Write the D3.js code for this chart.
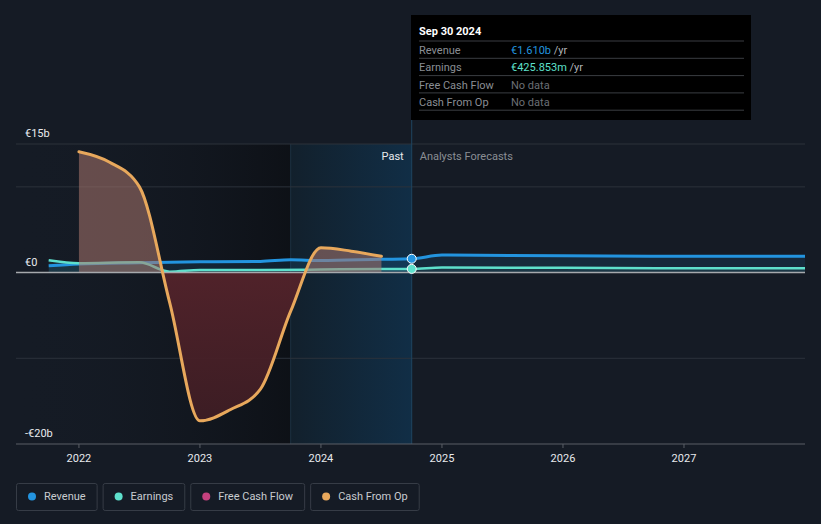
<!DOCTYPE html>
<html>
<head>
<meta charset="utf-8">
<script src="https://cdn.jsdelivr.net/npm/d3@7"></script>
<style>
  html, body { margin: 0; padding: 0; background: #151b25; }
  body { width: 821px; height: 524px; overflow: hidden; font-family: Roboto, 'Open Sans', sans-serif; }
  svg { display: block; }
</style>
</head>
<body>
<div id="chart"></div>
<script>
// values in € billions, time in decimal years
const revenueDates  = [2021.75, 2022.0, 2022.5, 2023.0, 2023.5, 2023.75, 2024.0, 2024.5, 2024.75, 2025.0, 2026.0, 2027.0, 2028.0]
const revenueValues = [0.8, 1.0, 1.15, 1.25, 1.3, 1.5, 1.4, 1.55, 1.61, 2.05, 1.95, 1.9, 1.9]

const earningsDates  = [2021.75, 2022.0, 2022.5, 2022.75, 2023.0, 2023.5, 2024.0, 2024.5, 2024.75, 2025.0, 2026.0, 2027.0, 2028.0]
const earningsValues = [1.45, 1.1, 1.2, 0.1, 0.3, 0.3, 0.35, 0.42, 0.43, 0.6, 0.55, 0.5, 0.5]

const cfoDates  = [2022.0, 2022.25, 2022.5, 2022.75, 2023.0, 2023.25, 2023.5, 2023.75, 2024.0, 2024.25, 2024.5]
const cfoValues = [14.1, 12.9, 10.0, -3.5, -17.3, -16.0, -13.6, -4.5, 2.9, 2.5, 1.9]

const yTicks = [15, 10, 0, -10, -20]
const yLabels = [{ v: 15, t: '€15b' }, { v: 0, t: '€0' }, { v: -20, t: '-€20b' }]
const xTicks = [2022, 2023, 2024, 2025, 2026, 2027]

const legendItems = [
  { name: 'Revenue',        color: '#2394df' },
  { name: 'Earnings',       color: '#5ee0cc' },
  { name: 'Free Cash Flow', color: '#c4417e' },
  { name: 'Cash From Op',   color: '#e8a85c' },
]

const tooltipRows = [
  { label: 'Revenue',        value: '€1.610b', color: '#2394df', unit: ' /yr' },
  { label: 'Earnings',       value: '€425.853m', color: '#5ee0cc', unit: ' /yr' },
  { label: 'Free Cash Flow', value: 'No data', color: '#6b6f75', unit: '' },
  { label: 'Cash From Op',   value: 'No data', color: '#6b6f75', unit: '' },
]

const W = 821, H = 524
const plotL = 16, plotR = 805, plotT = 144, plotB = 444
const pastStart = 2023.75, nowDate = 2024.75

const x = d3.scaleLinear().domain([2021.48, 2028.0]).range([plotL, plotR])
const y = d3.scaleLinear().domain([-20, 15]).range([plotB, plotT])

const svg = d3.select('#chart').append('svg').attr('width', W).attr('height', H)
const defs = svg.append('defs')

const darkGrad = defs.append('linearGradient').attr('id', 'darkGrad')
darkGrad.append('stop').attr('offset', '0%').attr('stop-color', '#151b25').attr('stop-opacity', 0)
darkGrad.append('stop').attr('offset', '100%').attr('stop-color', '#0c0f14').attr('stop-opacity', 0.85)

const blueGrad = defs.append('linearGradient').attr('id', 'blueGrad')
blueGrad.append('stop').attr('offset', '0%').attr('stop-color', '#12202c')
blueGrad.append('stop').attr('offset', '100%').attr('stop-color', '#112e46')

const negGrad = defs.append('linearGradient').attr('id', 'negGrad').attr('x1', 0).attr('x2', 0).attr('y1', 0).attr('y2', 1)
negGrad.append('stop').attr('offset', '0%').attr('stop-color', '#652830')
negGrad.append('stop').attr('offset', '100%').attr('stop-color', '#3e1d24')

defs.append('clipPath').attr('id', 'clipPos').append('rect')
  .attr('x', plotL).attr('y', 0).attr('width', plotR - plotL).attr('height', y(0))
defs.append('clipPath').attr('id', 'clipNeg').append('rect')
  .attr('x', plotL).attr('y', y(0)).attr('width', plotR - plotL).attr('height', plotB - y(0))

// past shading
svg.append('rect')
  .attr('x', plotL).attr('y', plotT).attr('width', x(pastStart) - plotL).attr('height', plotB - plotT)
  .attr('fill', 'url(#darkGrad)')
svg.append('rect')
  .attr('x', x(pastStart)).attr('y', plotT).attr('width', x(nowDate) - x(pastStart)).attr('height', plotB - plotT)
  .attr('fill', 'url(#blueGrad)')
svg.append('line')
  .attr('x1', x(pastStart)).attr('x2', x(pastStart)).attr('y1', plotT).attr('y2', plotB)
  .attr('stroke', '#1c3040').attr('stroke-width', 1)

// grid
svg.append('g').selectAll('line').data(yTicks.filter(d => d !== 0 && d !== -20)).enter().append('line')
  .attr('x1', plotL).attr('x2', plotR)
  .attr('y1', d => y(d)).attr('y2', d => y(d))
  .attr('stroke', '#2c323b').attr('stroke-width', 1)

svg.append('g').selectAll('text').data(yLabels).enter().append('text')
  .attr('x', 25).attr('y', d => y(d.v) - 7)
  .text(d => d.t)
  .attr('fill', '#e8eaed').attr('font-size', '11px')

// series
const pts = (dates, vals) => dates.map((d, i) => [d, vals[i]])
const revenue = pts(revenueDates, revenueValues)
const earnings = pts(earningsDates, earningsValues)
const cfo = pts(cfoDates, cfoValues)

const line = d3.line().x(d => x(d[0])).y(d => y(d[1])).curve(d3.curveMonotoneX)
const area = d3.area().x(d => x(d[0])).y0(y(0)).y1(d => y(d[1])).curve(d3.curveMonotoneX)

svg.append('path').datum(revenue).attr('d', area).attr('fill', '#2394df').attr('opacity', 0.12)
svg.append('path').datum(earnings).attr('d', area).attr('fill', '#5ee0cc').attr('opacity', 0.08)

svg.append('path').datum(revenue).attr('d', line)
  .attr('fill', 'none').attr('stroke', '#2394df').attr('stroke-width', 3)
svg.append('path').datum(earnings).attr('d', line)
  .attr('fill', 'none').attr('stroke', '#5ee0cc').attr('stroke-width', 2.5)

// cash from op area
svg.append('path').datum(cfo).attr('d', area)
  .attr('clip-path', 'url(#clipPos)').attr('fill', '#a9766d').attr('opacity', 0.55)
svg.append('path').datum(cfo).attr('d', area)
  .attr('clip-path', 'url(#clipNeg)').attr('fill', 'url(#negGrad)').attr('opacity', 0.95)

// zero line
svg.append('line')
  .attr('x1', plotL).attr('x2', plotR).attr('y1', y(0)).attr('y2', y(0))
  .attr('stroke', '#a6a9ad').attr('stroke-width', 1.5)

svg.append('path').datum(cfo).attr('d', line)
  .attr('fill', 'none').attr('stroke', '#e8a85c').attr('stroke-width', 3)
  .attr('stroke-linecap', 'round')

// now line
svg.append('line')
  .attr('x1', x(nowDate)).attr('x2', x(nowDate)).attr('y1', 15).attr('y2', plotB)
  .attr('stroke', '#1f4560').attr('stroke-width', 1)

svg.append('text').attr('x', x(nowDate) - 8).attr('y', 160).attr('text-anchor', 'end')
  .text('Past').attr('fill', '#e8eaed').attr('font-size', '11px')
svg.append('text').attr('x', x(nowDate) + 8).attr('y', 160)
  .text('Analysts Forecasts').attr('fill', '#8a8e94').attr('font-size', '11px')

// markers
svg.append('circle').attr('cx', x(nowDate)).attr('cy', y(1.61)).attr('r', 4.5)
  .attr('fill', '#2394df').attr('stroke', '#ffffff').attr('stroke-width', 1)
svg.append('circle').attr('cx', x(nowDate)).attr('cy', y(0.43)).attr('r', 4.5)
  .attr('fill', '#5ee0cc').attr('stroke', '#ffffff').attr('stroke-width', 1)

// x axis
svg.append('line').attr('x1', plotL).attr('x2', plotR).attr('y1', plotB).attr('y2', plotB)
  .attr('stroke', '#5a5f66').attr('stroke-width', 1)
const xg = svg.append('g')
xg.selectAll('line').data(xTicks).enter().append('line')
  .attr('x1', d => x(d)).attr('x2', d => x(d)).attr('y1', plotB).attr('y2', plotB + 4)
  .attr('stroke', '#5a5f66')
xg.selectAll('text').data(xTicks).enter().append('text')
  .attr('x', d => x(d)).attr('y', plotB + 18).attr('text-anchor', 'middle')
  .text(d => d).attr('fill', '#e8eaed').attr('font-size', '11px')

// tooltip
const tip = svg.append('g').attr('transform', 'translate(411,15)')
tip.append('rect').attr('width', 340).attr('height', 105).attr('fill', '#000000')
tip.append('text').attr('x', 8).attr('y', 20).text('Sep 30 2024')
  .attr('fill', '#ffffff').attr('font-size', '11px').attr('font-weight', 'bold')
const rowH = 17.3
tooltipRows.forEach((r, i) => {
  const ry = 26 + i * rowH
  tip.append('line').attr('x1', 8).attr('x2', 333).attr('y1', ry).attr('y2', ry)
    .attr('stroke', '#3a3d42').attr('stroke-width', 1)
  tip.append('text').attr('x', 8).attr('y', ry + 13).text(r.label)
    .attr('fill', '#8a8e94').attr('font-size', '11px')
  const t = tip.append('text').attr('x', 100).attr('y', ry + 13).attr('font-size', '11px')
  t.append('tspan').text(r.value).attr('fill', r.color)
  if (r.unit) t.append('tspan').text(r.unit).attr('fill', '#b0b3b8')
})
tip.append('line').attr('x1', 8).attr('x2', 333).attr('y1', 26 + 4 * rowH).attr('y2', 26 + 4 * rowH)
  .attr('stroke', '#3a3d42').attr('stroke-width', 1)

// legend
const lg = svg.append('g').attr('transform', 'translate(16,483)')
let lx = 0
legendItems.forEach(item => {
  const g = lg.append('g').attr('transform', `translate(${lx},0)`)
  const txt = g.append('text').attr('x', 28).attr('y', 17).text(item.name)
    .attr('fill', '#c8cbd0').attr('font-size', '11px')
  const w = txt.node().getComputedTextLength() + 39
  g.insert('rect', 'text').attr('x', 0.5).attr('y', 0.5).attr('width', w).attr('height', 27).attr('rx', 2)
    .attr('fill', 'none').attr('stroke', '#363c46').attr('stroke-width', 1)
  g.append('circle').attr('cx', 16).attr('cy', 13.5).attr('r', 4).attr('fill', item.color)
  lx += w + 6
})
</script>
</body>
</html>
